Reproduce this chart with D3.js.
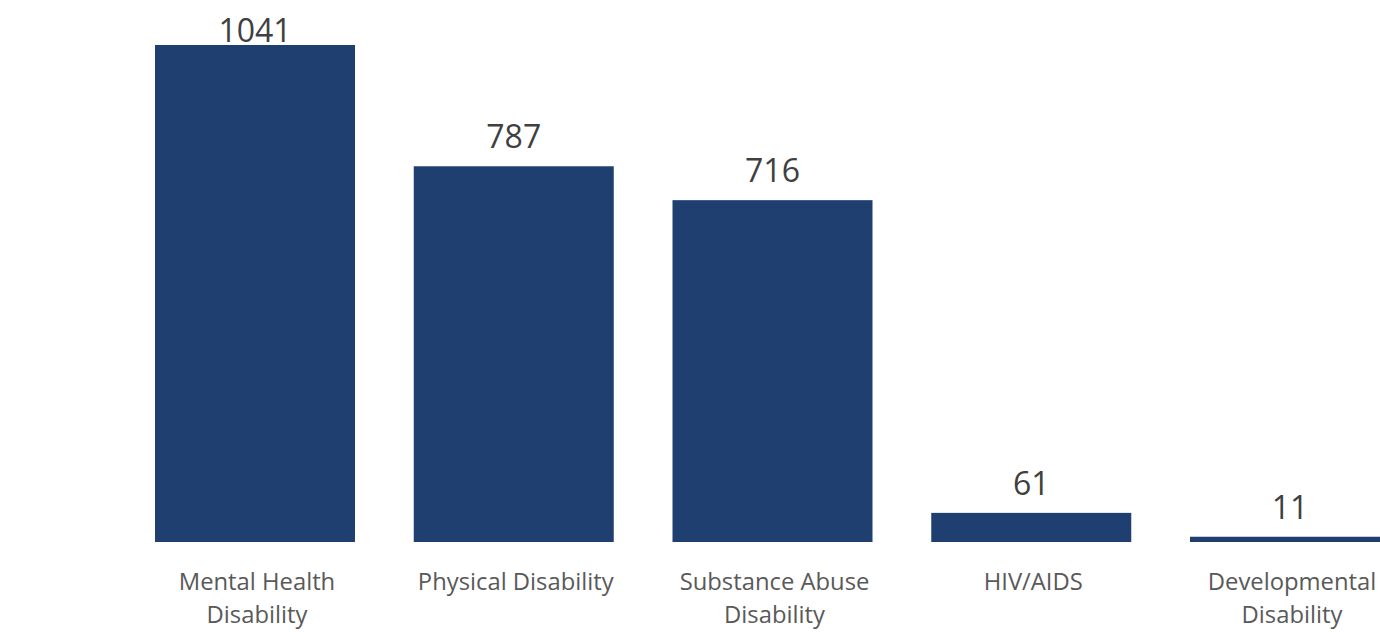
<!DOCTYPE html>
<html>
<head>
<meta charset="utf-8">
<script src="https://cdn.jsdelivr.net/npm/d3@7"></script>
<style>
  html, body { margin: 0; padding: 0; background: #ffffff; }
  svg { display: block; }
</style>
</head>
<body>
<svg id="chart" width="1380" height="632"></svg>
<script>
const categories = [
  ["Mental Health", "Disability"],
  ["Physical Disability"],
  ["Substance Abuse", "Disability"],
  ["HIV/AIDS"],
  ["Developmental", "Disability"]
];
const values = [1041, 787, 716, 61, 11];

const W = 1380, H = 632;
const baseline = 542, topY = 45;
const fontFamily = "'Segoe UI', 'Open Sans', 'Noto Sans', sans-serif";

const svg = d3.select("#chart");
const idx = d3.range(values.length);
const pIn = 58.75 / 258.75;
const x = d3.scaleBand()
  .domain(idx)
  .range([155 - 258.75 * pIn / 2, 155 - 258.75 * pIn / 2 + 5 * 258.75])
  .paddingInner(pIn)
  .paddingOuter(pIn / 2);

const y = d3.scaleLinear().domain([0, 1041]).range([baseline, topY]);

svg.selectAll("rect.bar")
  .data(idx)
  .join("rect")
  .attr("class", "bar")
  .attr("x", i => x(i))
  .attr("width", x.bandwidth())
  .attr("y", i => y(values[i]))
  .attr("height", i => baseline - y(values[i]))
  .attr("fill", "#1e3f6f");

svg.selectAll("text.val")
  .data(idx)
  .join("text")
  .attr("class", "val")
  .attr("x", i => x(i) + x.bandwidth() / 2)
  .attr("y", i => Math.max(42, y(values[i]) - 18))
  .attr("text-anchor", "middle")
  .attr("font-family", fontFamily)
  .attr("font-size", 32)
  .attr("fill", "#404040")
  .text(i => values[i]);

const lbl = svg.selectAll("text.cat")
  .data(idx)
  .join("text")
  .attr("class", "cat")
  .attr("text-anchor", "middle")
  .attr("font-family", fontFamily)
  .attr("font-size", 23.8)
  .attr("fill", "#595959");

lbl.each(function(i) {
  const t = d3.select(this);
  categories[i].forEach((line, k) => {
    t.append("tspan")
      .attr("x", x(i) + x.bandwidth() / 2 + 2)
      .attr("y", 590 + k * 33)
      .text(line);
  });
});
</script>
</body>
</html>
